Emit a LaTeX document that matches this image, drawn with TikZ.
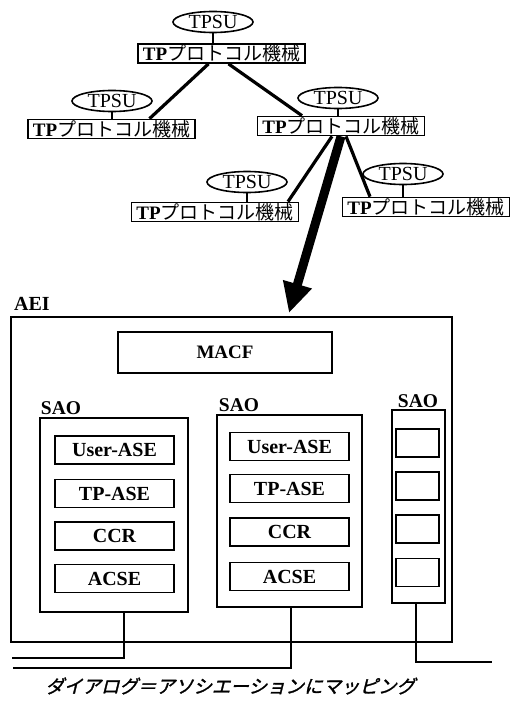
\documentclass[tikz,border=0pt]{standalone}
\usepackage{fontspec}
\setmainfont{Liberation Serif}
\newfontfamily\jp{Noto Sans CJK JP}
\newfontfamily\jpb{Noto Sans CJK JP}[FakeBold=1.5]
\usetikzlibrary{shapes.geometric,arrows.meta}
\newcommand{\tpm}{TP{\jp\mdseries プロトコル機械}}
\begin{document}
\begin{tikzpicture}[x=1pt,y=-1pt,
  tpsu/.style={ellipse, draw, line width=1.6pt, minimum width=80pt, minimum height=21pt, inner sep=0pt, font=\fontsize{20}{22}\selectfont},
  tpbox/.style={draw, line width=1.7pt, minimum width=167pt, minimum height=19pt, inner sep=0pt, font=\fontsize{19}{21}\selectfont\bfseries},
  link/.style={line width=3.2pt},
  stub/.style={line width=1.4pt},
  frame/.style={draw, line width=1.6pt, inner sep=0pt},
  ase/.style={draw, line width=1.8pt, minimum width=119pt, minimum height=28pt, inner sep=0pt, font=\fontsize{20}{22}\selectfont\bfseries},
  slot/.style={draw, line width=1.8pt, minimum width=43pt, minimum height=28pt, inner sep=0pt},
  lbl/.style={font=\fontsize{19.5}{22}\selectfont\bfseries, inner sep=0pt},
  bus/.style={line width=2.8pt}
]
\useasboundingbox (0,0) rectangle (516,701);

% tree
\node[tpsu] (e0) at (213,22) {TPSU};
\node[tpbox] (b0) at (221.5,53.5) {\tpm};
\node[tpsu] (e1) at (112,101) {TPSU};
\node[tpbox] (b1) at (111.5,129) {\tpm};
\node[tpsu] (e2) at (338,98) {TPSU};
\node[tpbox] (b2) at (341,126) {\tpm};
\node[tpsu] (e3) at (247,182) {TPSU};
\node[tpbox] (b3) at (215,212) {\tpm};
\node[tpsu] (e4) at (403,174) {TPSU};
\node[tpbox] (b4) at (426,207) {\tpm};

\foreach \i in {0,...,4} {\draw[stub] (e\i.south) -- (e\i.south |- b\i.north);}

\draw[link] ([xshift=-13pt]b0.south) -- ([xshift=38pt]b1.north);
\draw[link] ([xshift=7pt]b0.south) -- ([xshift=-39pt]b2.north);
\draw[link] ([xshift=-9pt]b2.south) -- ([xshift=73pt]b3.north);
\draw[link] ([xshift=5pt]b2.south) -- ([xshift=-56pt]b4.north);

\coordinate (tip) at (289,313);
\draw[line width=9pt, -{Triangle[length=30pt,width=28pt]}] (b2.south) -- (tip);

% AEI
\node[frame, minimum width=441pt, minimum height=325pt] (aei) at (231.5,479.5) {};
\node[lbl, font=\fontsize{20}{22}\selectfont\bfseries] (aeil) at (32,304) {AEI};
\node[frame, line width=1.8pt, minimum width=214pt, minimum height=41pt, font=\fontsize{19}{21}\selectfont\bfseries] (macf) at (225,352.5) {MACF};

% SAO boxes
\node[frame, minimum width=148pt, minimum height=194pt] (sao1) at (114,515) {};
\node[frame, minimum width=145pt, minimum height=192pt] (sao2) at (289.5,511) {};
\node[frame, minimum width=53pt, minimum height=193pt] (sao3) at (418.5,506.5) {};
\node[lbl] (l1) at (61,408) {SAO};
\node[lbl] (l2) at (239,405) {SAO};
\node[lbl] (l3) at (418,401) {SAO};

\node[ase] (a1) at (114.5,450) {User-ASE};
\node[ase] (a2) at (114.5,493.5) {TP-ASE};
\node[ase] (a3) at (114.5,536) {CCR};
\node[ase] (a4) at (114.5,578.5) {ACSE};
\node[ase] (c1) at (289.5,446.5) {User-ASE};
\node[ase] (c2) at (289.5,488.5) {TP-ASE};
\node[ase] (c3) at (289.5,532) {CCR};
\node[ase] (c4) at (289.5,576.5) {ACSE};
\node[slot] (s1) at (417.5,443) {};
\node[slot] (s2) at (417.5,486) {};
\node[slot] (s3) at (417.5,529) {};
\node[slot] (s4) at (417.5,572.5) {};

% buses
\coordinate (w1) at (12,658);
\coordinate (w2) at (13,668);
\coordinate (w3) at (492,662);
\draw[bus] ([xshift=10pt]sao1.south) |- (w1);
\draw[bus] ([xshift=1.5pt]sao2.south) |- (w2);
\draw[bus] ([xshift=-2.5pt]sao3.south) |- (w3);

% caption
\begin{scope}[shift={(232,686)}]
\node[xslant=0.25, transform shape, font=\jpb\fontsize{18.5}{20}\selectfont, inner sep=0pt] (cap) at (0,0) {ダイアログ＝アソシエーションにマッピング};
\end{scope}
\end{tikzpicture}
\end{document}
